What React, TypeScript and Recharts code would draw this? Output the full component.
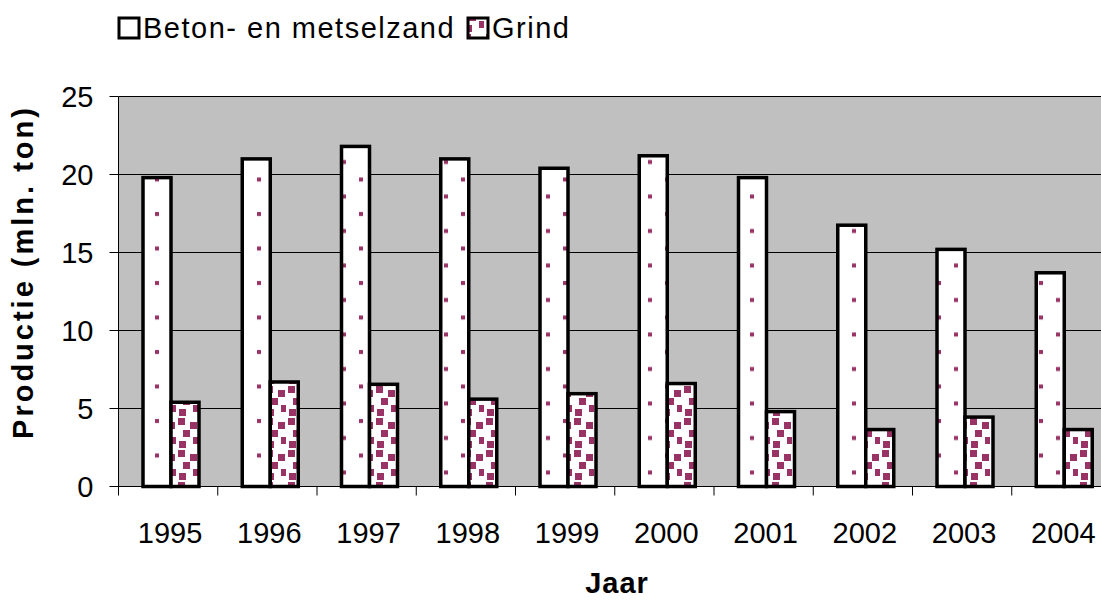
import { Bar, BarChart, CartesianGrid, XAxis, YAxis } from 'recharts'

const years = ['1995', '1996', '1997', '1998', '1999', '2000', '2001', '2002', '2003', '2004']
const betonValues = [19.8, 21.0, 21.8, 21.0, 20.4, 21.2, 19.8, 16.75, 15.2, 13.7]
const grindValues = [5.4, 6.7, 6.55, 5.6, 5.95, 6.6, 4.8, 3.65, 4.45, 3.65]
const yTicks = [0, 5, 10, 15, 20, 25]
const seriesNames = ['Beton- en metselzand', 'Grind']
const xTitle = 'Jaar'
const yTitle = 'Productie (mln. ton)'

const data = years.map((year, i) => ({ year, beton: betonValues[i], grind: grindValues[i] }))

const FONT = '"Liberation Sans", Arial, Helvetica, sans-serif'
const MAROON = '#993366'
const CHART_W = 1111
const AXIS_W = 118.5
const PLOT_TOP = 96.5
const PLOT_BOTTOM = 486.5
const BAND = (CHART_W - AXIS_W) / years.length

function XTick(props: any) {
  const { x, payload } = props
  const edge = x - BAND / 2
  return (
    <g>
      <line x1={edge} x2={edge} y1={PLOT_BOTTOM} y2={PLOT_BOTTOM + 9} stroke="#000" />
      <text x={x + 2} y={543} textAnchor="middle" fontSize={29} fontFamily={FONT} fill="#000">
        {payload.value}
      </text>
    </g>
  )
}

// bars sit a little right of the band centre in the original
function OutlinedBar(props: any) {
  const { x, y, width, height, fill } = props
  if (!height) return null
  return (
    <rect x={x + 2.5} y={y} width={width} height={height} fill={fill} stroke="#000" strokeWidth={3.5} />
  )
}

function LegendBox() {
  return (
    <svg width={620} height={50} style={{ position: 'absolute', left: 0, top: 0 }}>
      <defs>
        <pattern id="beton-fill" patternUnits="userSpaceOnUse" width={34} height={34.5}>
          <rect width={34} height={34.5} fill="#fff" />
          <rect x={19} y={5} width={4} height={4} fill={MAROON} />
          <rect x={2} y={22} width={4} height={4} fill={MAROON} />
        </pattern>
        <pattern id="grind-fill" patternUnits="userSpaceOnUse" width={22} height={32}>
          <rect width={22} height={32} fill="#fff" />
          <rect x={2} y={2} width={7} height={7} fill={MAROON} />
          <rect x={14} y={6} width={7} height={7} fill={MAROON} />
          <rect x={7} y={14} width={7} height={7} fill={MAROON} />
          <rect x={17} y={21} width={7} height={7} fill={MAROON} />
          <rect x={3} y={25} width={7} height={7} fill={MAROON} />
        </pattern>
      </defs>
      <rect x={119} y={18} width={20} height={20} fill="url(#beton-fill)" stroke="#000" strokeWidth={3} />
      <text x={143} y={38} fontSize={29} fontFamily={FONT} letterSpacing={1.5} fill="#000">
        {seriesNames[0]}
      </text>
      <rect x={468} y={18} width={20} height={20} fill="url(#grind-fill)" stroke="#000" strokeWidth={3} />
      <text x={492} y={38} fontSize={29} fontFamily={FONT} letterSpacing={1.5} fill="#000">
        {seriesNames[1]}
      </text>
    </svg>
  )
}

export default function App() {
  return (
    <div
      style={{
        position: 'absolute',
        left: 0,
        top: 0,
        width: 1101,
        height: 601,
        overflow: 'hidden',
        background: '#fff',
        fontFamily: FONT,
      }}
    >
      <LegendBox />
      <BarChart
        width={CHART_W}
        height={601}
        data={data}
        margin={{ top: PLOT_TOP, right: 0, bottom: 0, left: 0 }}
        barGap={0}
        barSize={28}
      >
        <CartesianGrid vertical={false} stroke="#000" fill="#C0C0C0" />
        <XAxis
          dataKey="year"
          height={601 - PLOT_BOTTOM}
          interval={0}
          tickLine={false}
          axisLine={{ stroke: '#000' }}
          tick={(p: any) => <XTick {...p} />}
          label={{
            content: () => (
              <text
                x={617}
                y={593}
                textAnchor="middle"
                fontSize={29}
                fontWeight="bold"
                fontFamily={FONT}
                letterSpacing={1}
                fill="#000"
              >
                {xTitle}
              </text>
            ),
          }}
        />
        <YAxis
          width={AXIS_W}
          domain={[0, 25]}
          ticks={yTicks}
          interval={0}
          tickSize={9}
          tickMargin={16}
          axisLine={{ stroke: '#000' }}
          tickLine={{ stroke: '#000' }}
          tick={{ fontSize: 29, fill: '#000', fontFamily: FONT }}
          label={{
            content: () => (
              <text
                x={0}
                y={0}
                transform="translate(33,272) rotate(-90)"
                textAnchor="middle"
                fontSize={29}
                fontWeight="bold"
                fontFamily={FONT}
                letterSpacing={3}
                fill="#000"
              >
                {yTitle}
              </text>
            ),
          }}
        />
        <Bar dataKey="beton" name={seriesNames[0]} fill="url(#beton-fill)" shape={OutlinedBar} isAnimationActive={false} />
        <Bar dataKey="grind" name={seriesNames[1]} fill="url(#grind-fill)" shape={OutlinedBar} isAnimationActive={false} />
      </BarChart>
    </div>
  )
}
